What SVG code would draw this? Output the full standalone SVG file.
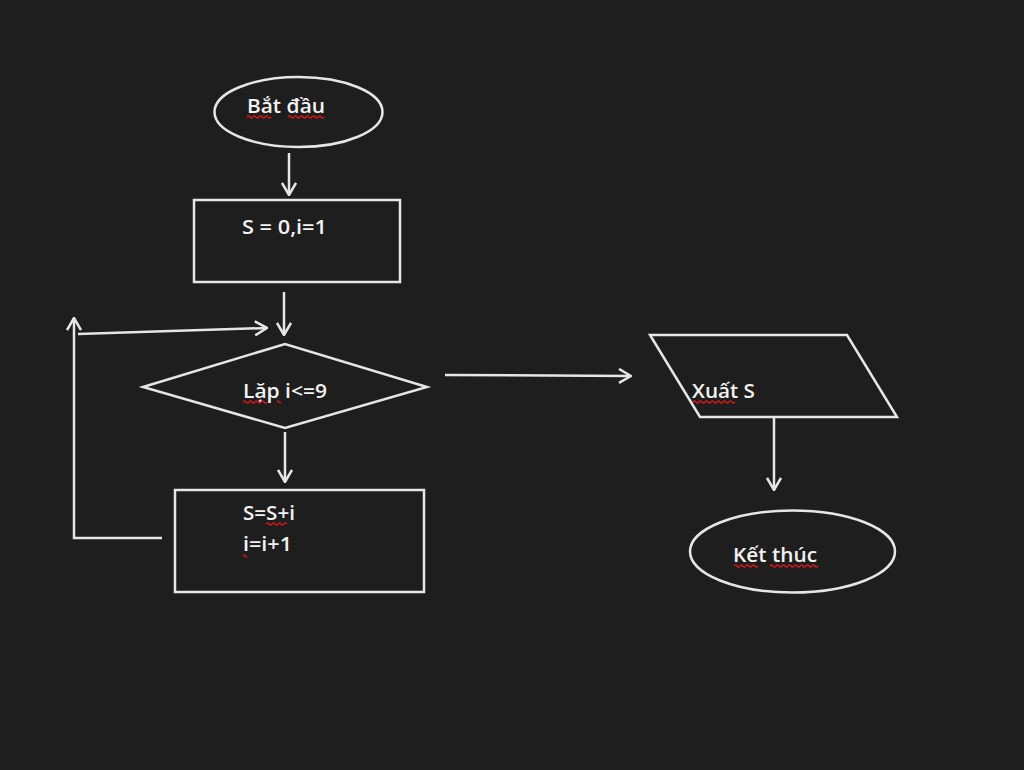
<svg xmlns="http://www.w3.org/2000/svg" width="1024" height="770" viewBox="0 0 1024 770">
<style>
.s{fill:none;stroke:#e6e6e6;stroke-width:2.5;stroke-linejoin:miter}
.t{font-family:"Open Sans","DejaVu Sans",sans-serif;font-size:20px;font-weight:600;fill:#f2f2f2}
.w{fill:none;stroke:#d01818;stroke-width:1.3}
</style>
<defs>
<marker id="a" viewBox="0 0 14 16" refX="13" refY="8" markerWidth="14" markerHeight="16" markerUnits="userSpaceOnUse" orient="auto">
<path d="M1,1 L13,8 L1,15" fill="none" stroke="#e6e6e6" stroke-width="2.5"/>
</marker>
</defs>
<rect width="1024" height="770" fill="#1f1e1e"/>
<g id="start">
<ellipse class="s" cx="298.5" cy="112" rx="84" ry="35"/>
<text class="t" x="247" y="113" textLength="78" lengthAdjust="spacingAndGlyphs">Bắt đầu</text>
<path class="w" d="M247,117 q1.5,-2 3,0 t3,0 t3,0 t3,0 t3,0 t3,0 t3,0 t3,0 M288,117 q1.5,-2 3,0 t3,0 t3,0 t3,0 t3,0 t3,0 t3,0 t3,0 t3,0 t3,0 t3,0 t3,0"/>
</g>
<g id="init">
<rect class="s" x="194" y="200" width="206" height="82"/>
<text class="t" x="242" y="234" textLength="85" lengthAdjust="spacingAndGlyphs">S = 0,i=1</text>
</g>
<g id="cond">
<polygon class="s" points="143,387 285,344 427,387 285,428"/>
<text class="t" x="243" y="398" textLength="84" lengthAdjust="spacingAndGlyphs">Lặp i&lt;=9</text>
<path class="w" d="M243,402 q1.5,-2 3,0 t3,0 t3,0 t3,0 t3,0 t3,0 t3,0 t3,0 M277,402 q1,-2 2,0 t2,0"/>
</g>
<g id="body">
<rect class="s" x="175" y="490" width="249" height="102"/>
<text class="t" x="243" y="520" textLength="52" lengthAdjust="spacingAndGlyphs">S=S+i</text>
<text class="t" x="243" y="551" textLength="49" lengthAdjust="spacingAndGlyphs">i=i+1</text>
<path class="w" d="M266,524 q1.5,-2 3,0 t3,0 t3,0 t3,0 t3,0 t3,0 t3,0 M243,556 q1,-2 2,0 t2,0"/>
</g>
<g id="output">
<polygon class="s" points="650,335 847,335 897,417 700,417"/>
<text class="t" x="692" y="398" textLength="63" lengthAdjust="spacingAndGlyphs">Xuất S</text>
<path class="w" d="M693,402 q1.5,-2 3,0 t3,0 t3,0 t3,0 t3,0 t3,0 t3,0 t3,0 t3,0 t3,0 t3,0 t3,0 t3,0 t3,0"/>
</g>
<g id="end">
<ellipse class="s" cx="792.5" cy="551.5" rx="102.5" ry="41"/>
<text class="t" x="733" y="562" textLength="84" lengthAdjust="spacingAndGlyphs">Kết thúc</text>
<path class="w" d="M734,566 q1.5,-2 3,0 t3,0 t3,0 t3,0 t3,0 t3,0 t3,0 t3,0 M770,566 q1.5,-2 3,0 t3,0 t3,0 t3,0 t3,0 t3,0 t3,0 t3,0 t3,0 t3,0 t3,0 t3,0 t3,0 t3,0 t3,0 t3,0"/>
</g>
<g id="connectors">
<line class="s" x1="289" y1="153" x2="289" y2="195" marker-end="url(#a)"/>
<line class="s" x1="284" y1="292" x2="284" y2="335" marker-end="url(#a)"/>
<line class="s" x1="285" y1="432" x2="285" y2="482" marker-end="url(#a)"/>
<polyline class="s" points="162,538 74,538 74,318" marker-end="url(#a)"/>
<line class="s" x1="78" y1="334" x2="267" y2="328" marker-end="url(#a)"/>
<line class="s" x1="445" y1="375" x2="631" y2="376" marker-end="url(#a)"/>
<line class="s" x1="774" y1="417" x2="774" y2="490" marker-end="url(#a)"/>
</g>
</svg>
